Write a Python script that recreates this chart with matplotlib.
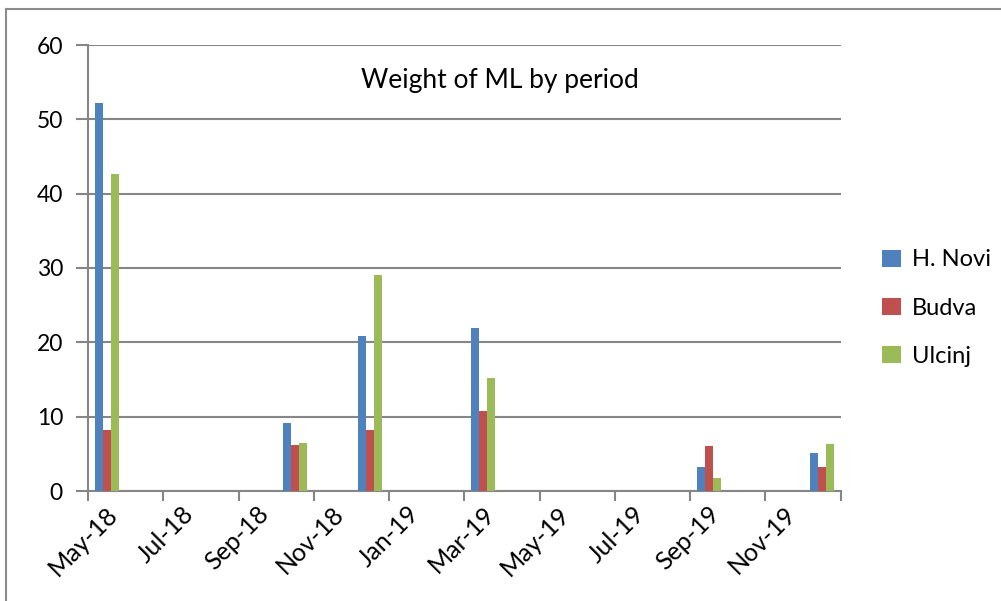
import numpy as np
import matplotlib.pyplot as plt
from matplotlib.lines import Line2D
from matplotlib.transforms import ScaledTranslation

plt.rcParams['font.family'] = ['Lato', 'DejaVu Sans']

# months counted from May-18 (0) to Jan-20 (20)
tick_labels = ['May-18', 'Jul-18', 'Sep-18', 'Nov-18', 'Jan-19', 'Mar-19',
               'May-19', 'Jul-19', 'Sep-19', 'Nov-19']
periods = [0, 5, 7, 10, 16, 19]  # May-18, Oct-18, Dec-18, Mar-19, Sep-19, Dec-19
h_novi = [52.2, 9.1, 20.9, 21.9, 3.2, 5.1]
budva = [8.2, 6.2, 8.2, 10.8, 6.1, 3.2]
ulcinj = [42.6, 6.5, 29.0, 15.2, 1.7, 6.3]

series = [('H. Novi', h_novi, '#4F81BD'),
          ('Budva', budva, '#C0504D'),
          ('Ulcinj', ulcinj, '#9BBB59')]

fig = plt.figure(figsize=(10.01, 6.01), dpi=100)
ax = fig.add_axes([88 / 1001, 110 / 601, 752.7 / 1001, 446 / 601])

grid_col = '#868686'
w = 0.212
x = np.array(periods) + 0.5
for i, (name, vals, col) in enumerate(series):
    ax.bar(x + (i - 1) * w, vals, width=w, color=col, label=name, zorder=3)

ax.set_xlim(0, 20)
ax.set_ylim(0, 60)
ax.set_yticks(range(0, 61, 10))
ax.set_xticks(range(0, 20, 2))
ax.set_xticklabels(tick_labels, rotation=45, ha='right', rotation_mode='anchor',
                   fontsize=18)
ax.tick_params(axis='y', labelsize=16.5, length=9, color=grid_col, width=1.5, pad=9)
ax.tick_params(axis='x', length=7, color=grid_col, width=1.5, pad=1)
ax.xaxis.set_minor_locator(plt.FixedLocator([20]))
ax.tick_params(axis='x', which='minor', length=7, color=grid_col, width=1.5)

# shift the rotated labels a bit to the right, like Excel does
shift = ScaledTranslation(18 / 100, 0, fig.dpi_scale_trans)
for lab in ax.get_xticklabels():
    lab.set_transform(lab.get_transform() + shift)

ax.yaxis.grid(True, color=grid_col, linewidth=1.5, zorder=0)
ax.set_axisbelow(True)
for s in ['top', 'right']:
    ax.spines[s].set_visible(False)
for s in ['left', 'bottom']:
    ax.spines[s].set_color(grid_col)
    ax.spines[s].set_linewidth(1.5)

ax.text(0.547, 0.92, 'Weight of ML by period', transform=ax.transAxes,
        ha='center', va='center', fontsize=19)

ax.legend(loc='center left', bbox_to_anchor=(1.027, 0.41), frameon=False,
          fontsize=17, handlelength=0.8, handleheight=0.75, labelspacing=1.15,
          handletextpad=0.45)

# chart border (top and left edges visible)
fig.add_artist(Line2D([6 / 1001, 6 / 1001], [0, 1 - 9 / 601], color='#8c8c8c',
                      linewidth=1.5, transform=fig.transFigure))
fig.add_artist(Line2D([6 / 1001, 1], [1 - 9 / 601, 1 - 9 / 601], color='#8c8c8c',
                      linewidth=1.5, transform=fig.transFigure))

fig.savefig('out.png', dpi=100)
